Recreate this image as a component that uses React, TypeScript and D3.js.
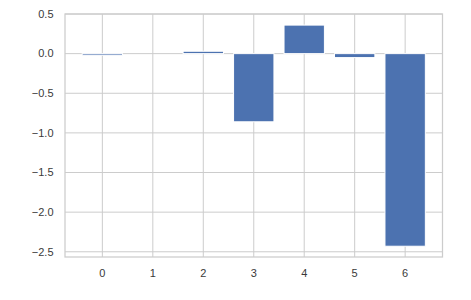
import React from "react";
import * as d3 from "d3";

const categories = [0, 1, 2, 3, 4, 5, 6];
const values = [-0.02, 0.0, 0.03, -0.86, 0.36, -0.05, -2.43];
const yTicks = [0.5, 0.0, -0.5, -1.0, -1.5, -2.0, -2.5];

const W = 471;
const H = 300;
const M = { left: 65, right: 471 - 442.5, top: 14, bottom: 300 - 257 };

export default function App() {
  const x = d3.scaleLinear().domain([-0.74, 6.74]).range([M.left, W - M.right]);
  const y = d3.scaleLinear().domain([-2.566, 0.5]).range([H - M.bottom, M.top]);
  const bw = x(0.8) - x(0);
  const fmt = (v: number) => (v < 0 ? "\u2212" : "") + Math.abs(v).toFixed(1);
  const grid = "#cccccc";
  const font = "'Liberation Sans', Arial, sans-serif";
  return (
    <svg width={W} height={H} style={{ position: "absolute", left: 0, top: 0, background: "#fff" }}>
      {categories.map((c) => (
        <line key={"gx" + c} x1={x(c)} x2={x(c)} y1={M.top} y2={H - M.bottom} stroke={grid} strokeWidth={1} />
      ))}
      {yTicks.map((t) => (
        <line key={"gy" + t} x1={M.left} x2={W - M.right} y1={y(t)} y2={y(t)} stroke={grid} strokeWidth={1} />
      ))}
      {categories.map((c, i) => {
        const v = values[i];
        return (
          <rect
            key={"b" + c}
            x={x(c) - bw / 2}
            width={bw}
            y={Math.min(y(v), y(0))}
            height={Math.abs(y(v) - y(0))}
            fill="#4c72b0"
            stroke="#ffffff"
            strokeWidth={1}
          />
        );
      })}
      <rect
        x={M.left}
        y={M.top}
        width={W - M.right - M.left}
        height={H - M.bottom - M.top}
        fill="none"
        stroke={grid}
        strokeWidth={1.25}
      />
      {yTicks.map((t) => (
        <text key={"ty" + t} x={53.5} y={y(t)} dy="0.35em" textAnchor="end" fontSize={11} fontFamily={font} fill="#3a3a3a">
          {fmt(t)}
        </text>
      ))}
      {categories.map((c) => (
        <text key={"tx" + c} x={x(c)} y={277} textAnchor="middle" fontSize={11} fontFamily={font} fill="#3a3a3a">
          {String(c)}
        </text>
      ))}
    </svg>
  );
}
